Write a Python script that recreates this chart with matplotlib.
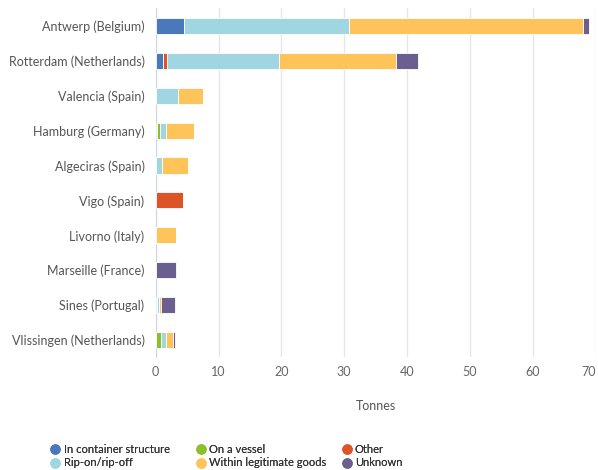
import numpy as np
import matplotlib as mpl
import matplotlib.pyplot as plt
from matplotlib.lines import Line2D

mpl.use('Agg')

mpl.rcParams['font.family'] = 'Lato'
mpl.rcParams['font.size'] = 9

ports = [
    'Antwerp (Belgium)', 'Rotterdam (Netherlands)', 'Valencia (Spain)',
    'Hamburg (Germany)', 'Algeciras (Spain)', 'Vigo (Spain)', 'Livorno (Italy)',
    'Marseille (France)', 'Sines (Portugal)', 'Vlissingen (Netherlands)',
]

in_container = [4.5, 1.2, 0, 0.25, 0, 0, 0, 0, 0.25, 0]
on_vessel = [0, 0, 0, 0.4, 0, 0, 0, 0, 0, 0.9]
other = [0, 0.6, 0, 0, 0, 4.4, 0, 0, 0, 0]
rip_on = [26.2, 17.8, 3.6, 1.05, 0.95, 0, 0, 0, 0.2, 0.7]
legit_goods = [37.3, 18.6, 3.9, 4.35, 4.25, 0, 3.25, 0, 0.4, 1.15]
unknown = [0.9, 3.5, 0, 0, 0, 0, 0, 3.25, 2.2, 0.25]

series = [
    ('In container structure', in_container, '#4a78bd'),
    ('On a vessel', on_vessel, '#8cbf2c'),
    ('Other', other, '#dc5428'),
    ('Rip-on/rip-off', rip_on, '#9fd6e1'),
    ('Within legitimate goods', legit_goods, '#fec459'),
    ('Unknown', unknown, '#6b5f8f'),
]


def main():
    fig = plt.figure(figsize=(5.98, 4.70), dpi=100)
    ax = fig.add_axes([0.2604, 0.2394, 0.7355, 0.7426])

    y = np.arange(len(ports))
    left = np.zeros(len(ports))
    for name, vals, col in series:
        vals = np.array(vals, dtype=float)
        ax.barh(y, vals, left=left, height=0.46, color=col,
                edgecolor='white', linewidth=0.6, zorder=3)
        left += vals

    ax.set_ylim(len(ports) - 0.5, -0.5)
    ax.set_yticks(y)
    ax.set_yticklabels(ports, color='#555555')
    ax.set_xlim(0, 70)
    ax.set_xticks(np.arange(0, 71, 10))
    ax.tick_params(axis='x', colors='#666666', length=0, pad=6)
    ax.tick_params(axis='y', length=0, pad=8)
    ax.get_xticklabels()[-1].set_horizontalalignment('right')
    ax.grid(axis='x', color='#e6e6e6', linewidth=1, zorder=0)
    for s in ['top', 'right', 'bottom']:
        ax.spines[s].set_visible(False)
    ax.spines['left'].set_color('#ccd6eb')
    ax.set_xlabel('Tonnes', color='#555555', labelpad=16)

    # one legend per column so the column positions can be set
    col_x = [0.085, 0.328, 0.572]
    for c in range(3):
        picked = [series[c], series[c + 3]]
        handles = [Line2D([], [], marker='o', linestyle='', markersize=6.5,
                          color=s[2]) for s in picked]
        labels = [s[0] for s in picked]
        leg = fig.legend(handles, labels, loc='upper left',
                         bbox_to_anchor=(col_x[c], 0.056), frameon=False,
                         handletextpad=0.35, labelspacing=0.25,
                         handlelength=0.8, borderaxespad=0, borderpad=0,
                         fontsize=8, labelcolor='#333333')
        fig.add_artist(leg)

    fig.savefig('out.png', dpi=100)
    plt.close(fig)


if __name__ == '__main__':
    main()
